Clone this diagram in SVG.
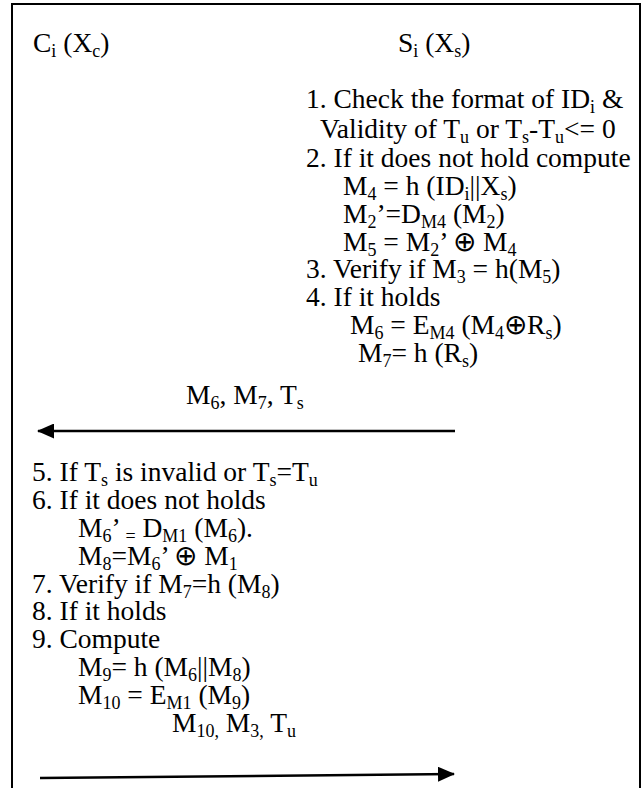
<svg xmlns="http://www.w3.org/2000/svg" width="644" height="788" viewBox="0 0 644 788">
<style>
text{font-family:"Liberation Serif","Times New Roman",serif;font-size:27.5px;fill:#000}
.s{font-size:18px}
.frame{fill:none;stroke:#000;stroke-width:2}
.conn{stroke:#000;stroke-width:2.5;fill:none}
</style>
<defs>
<marker id="ahb" markerWidth="17" markerHeight="15" refX="16" refY="7.5" orient="auto" markerUnits="userSpaceOnUse">
<path d="M0,0 L17,7.5 L0,15 Z" fill="#000"/>
</marker>
</defs>
<polyline class="frame" points="12,788 12,4 640,4 640,788"/>
<g id="client-header"><text x="33" y="52">C<tspan class="s" dy="5">i</tspan><tspan dy="-5"> (X</tspan><tspan class="s" dy="5">c</tspan><tspan dy="-5">)</tspan></text></g>
<g id="server-header"><text x="398" y="52">S<tspan class="s" dy="5">i</tspan><tspan dy="-5"> (X</tspan><tspan class="s" dy="5">s</tspan><tspan dy="-5">)</tspan></text></g>
<g id="server-steps">
<text x="306" y="108">1. Check the format of ID<tspan class="s" dy="5">i</tspan><tspan dy="-5"> &amp;</tspan></text>
<text x="320" y="138">Validity of T<tspan class="s" dy="5">u</tspan><tspan dy="-5"> or T</tspan><tspan class="s" dy="5">s</tspan><tspan dy="-5">-T</tspan><tspan class="s" dy="5">u</tspan><tspan dy="-5">&lt;= 0</tspan></text>
<text x="306" y="167">2. If it does not hold compute</text>
<text x="343" y="195">M<tspan class="s" dy="5">4</tspan><tspan dy="-5"> = h (ID</tspan><tspan class="s" dy="5">i</tspan><tspan dy="-5">||X</tspan><tspan class="s" dy="5">s</tspan><tspan dy="-5">)</tspan></text>
<text x="343" y="223">M<tspan class="s" dy="5">2</tspan><tspan dy="-5">’=D</tspan><tspan class="s" dy="5">M4</tspan><tspan dy="-5"> (M</tspan><tspan class="s" dy="5">2</tspan><tspan dy="-5">)</tspan></text>
<text x="343" y="251">M<tspan class="s" dy="5">5</tspan><tspan dy="-5"> = M</tspan><tspan class="s" dy="5">2</tspan><tspan dy="-5">’ ⊕ M</tspan><tspan class="s" dy="5">4</tspan></text>
<text x="306" y="278">3. Verify if M<tspan class="s" dy="5">3</tspan><tspan dy="-5"> = h(M</tspan><tspan class="s" dy="5">5</tspan><tspan dy="-5">)</tspan></text>
<text x="306" y="306">4. If it holds</text>
<text x="350" y="334">M<tspan class="s" dy="5">6</tspan><tspan dy="-5"> = E</tspan><tspan class="s" dy="5">M4</tspan><tspan dy="-5"> (M</tspan><tspan class="s" dy="5">4</tspan><tspan dy="-5">⊕R</tspan><tspan class="s" dy="5">s</tspan><tspan dy="-5">)</tspan></text>
<text x="358" y="362">M<tspan class="s" dy="5">7</tspan><tspan dy="-5">= h (R</tspan><tspan class="s" dy="5">s</tspan><tspan dy="-5">)</tspan></text>
</g>
<g id="client-steps">
<text x="32" y="481">5. If T<tspan class="s" dy="5">s</tspan><tspan dy="-5"> is invalid or T</tspan><tspan class="s" dy="5">s</tspan><tspan dy="-5">=T</tspan><tspan class="s" dy="5">u</tspan></text>
<text x="32" y="509">6. If it does not holds</text>
<text x="78" y="537">M<tspan class="s" dy="5">6</tspan><tspan dy="-5">’ </tspan><tspan class="s" dy="5">=</tspan><tspan dy="-5"> D</tspan><tspan class="s" dy="5">M1</tspan><tspan dy="-5"> (M</tspan><tspan class="s" dy="5">6</tspan><tspan dy="-5">).</tspan></text>
<text x="78" y="565">M<tspan class="s" dy="5">8</tspan><tspan dy="-5">=M</tspan><tspan class="s" dy="5">6</tspan><tspan dy="-5">’ ⊕ M</tspan><tspan class="s" dy="5">1</tspan></text>
<text x="32" y="593">7. Verify if M<tspan class="s" dy="5">7</tspan><tspan dy="-5">=h (M</tspan><tspan class="s" dy="5">8</tspan><tspan dy="-5">)</tspan></text>
<text x="32" y="620">8. If it holds</text>
<text x="32" y="648">9. Compute</text>
<text x="78" y="676">M<tspan class="s" dy="5">9</tspan><tspan dy="-5">= h (M</tspan><tspan class="s" dy="5">6</tspan><tspan dy="-5">||M</tspan><tspan class="s" dy="5">8</tspan><tspan dy="-5">)</tspan></text>
<text x="78" y="704">M<tspan class="s" dy="5">10</tspan><tspan dy="-5"> = E</tspan><tspan class="s" dy="5">M1</tspan><tspan dy="-5"> (M</tspan><tspan class="s" dy="5">9</tspan><tspan dy="-5">)</tspan></text>
</g>
<g id="connectors">
<line class="conn" x1="455" y1="431" x2="38" y2="431" marker-end="url(#ahb)"/>
<text x="186" y="404">M<tspan class="s" dy="5">6</tspan><tspan dy="-5">, M</tspan><tspan class="s" dy="5">7</tspan><tspan dy="-5">, T</tspan><tspan class="s" dy="5">s</tspan></text>
<line class="conn" x1="40" y1="778" x2="454" y2="774" marker-end="url(#ahb)"/>
<text x="172" y="732">M<tspan class="s" dy="5">10,</tspan><tspan dy="-5"> M</tspan><tspan class="s" dy="5">3,</tspan><tspan dy="-5"> T</tspan><tspan class="s" dy="5">u</tspan></text>
</g>
</svg>
